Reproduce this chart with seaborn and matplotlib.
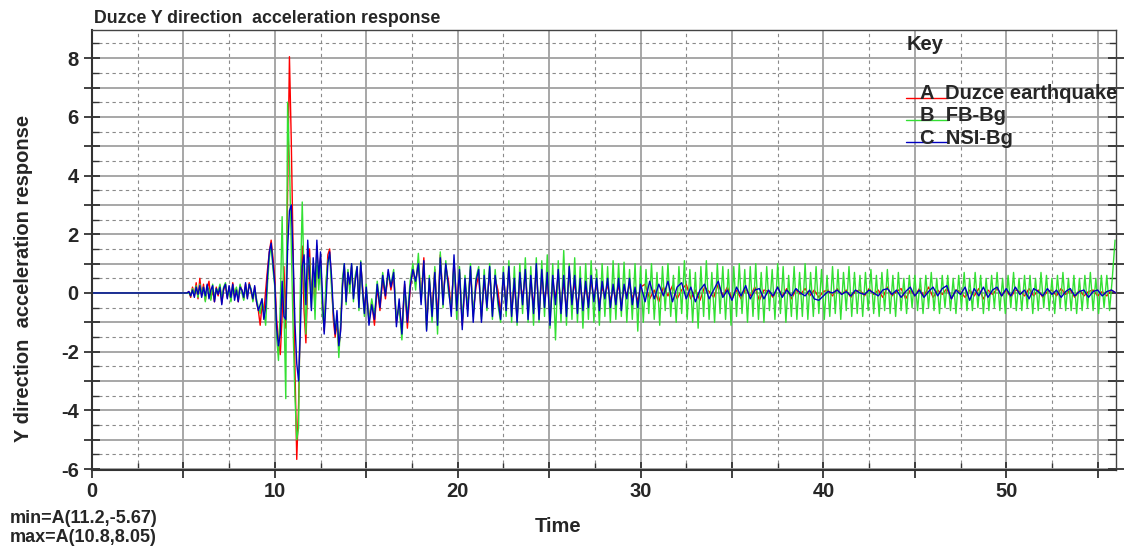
import numpy as np
import pandas as pd
import matplotlib
matplotlib.use("Agg")
import matplotlib.pyplot as plt
import seaborn as sns
from matplotlib.ticker import MultipleLocator, FuncFormatter
from matplotlib.lines import Line2D
from matplotlib.legend_handler import HandlerLine2D

# ---------------------------------------------------------------
# Data
# ---------------------------------------------------------------
# quiet lead-in before the record starts
lead_time = [0.0, 5.1]
lead_vals = [0.0, 0.0]

# strong motion part: 5.2 s .. 15.0 s every 0.1 s
strong_t0, strong_dt = 5.2, 0.1
duzce_strong = [0.0, 0.05, -0.15, 0.2, -0.1, 0.35, -0.2, 0.5,
                -0.1, 0.3, -0.25, 0.15, 0.4, -0.2, 0.1, -0.3, 0.2, -0.1,
                0.25, -0.35, 0.1, 0.3, -0.15, 0.2, -0.25, 0.35, -0.1, 0.15,
                -0.3, 0.25, 0.1, -0.2, 0.3, -0.15, 0.35, 0.05, -0.25, 0.2,
                -0.3, -0.6, -1.1, -0.4, -0.7, 0.1, 0.8, 1.4, 1.8, 1.2,
                0.5, -0.9, -1.6, -2.1, -0.8, 0.9, -1.2, 3.5, 8.05, 5.2,
                1.5, -2.5, -5.67, -3.8, -0.5, 1.6, -0.6, -1.7, 0.4, 1.5,
                -0.2, 0.8, -0.6, 1.6, 0.3, 1.2, -0.4, -1.3, 0.2, 1.3,
                1.5, 0.4, -0.9, -1.5, -1.0, -1.9, -1.2, 0.3, 0.9, -0.2,
                0.6, 0.2, 0.9, -0.1, 0.5, 0.8, -0.4, 1.0, 0.2, -0.6, 0.1]
fb_strong = [0.0, 0.0, -0.1, 0.15, -0.05, 0.25, -0.15, 0.3,
             0.0, 0.2, -0.3, 0.25, 0.1, -0.25, 0.3, -0.2, 0.15, 0.05,
             0.3, -0.2, 0.2, 0.35, -0.1, 0.1, -0.3, 0.25, 0.0, 0.2,
             -0.2, 0.3, 0.0, -0.25, 0.2, -0.1, 0.3, 0.15, -0.3, 0.1,
             -0.2, -0.5, -0.7, -0.2, -0.6, -1.1, 0.3, 1.2, 1.6, 0.8,
             0.2, -1.5, -2.3, -0.4, 2.6, -0.5, -3.6, 6.5, 4.5, 1.6,
             -1.2, -3.5, -5.0, -4.6, 0.3, 3.1, 0.5, -1.4, 0.9, 1.2,
             -0.5, 0.9, -0.9, 1.4, 0.1, 1.0, -0.7, -1.2, 0.4, 1.1,
             1.3, 0.2, -0.7, -1.3, -0.8, -2.2, -1.0, 0.5, 1.0, -0.4,
             0.8, 0.0, 1.0, -0.3, 0.6, 0.9, -0.6, 1.1, 0.0, -0.8, 0.3]
nsi_strong = [0.0, 0.05, -0.1, 0.1, -0.15, 0.2, -0.05, 0.25,
              -0.15, 0.2, -0.1, 0.3, -0.2, 0.1, 0.25, -0.3, 0.15, -0.05,
              0.2, -0.4, 0.15, 0.3, -0.2, 0.25, -0.15, 0.3, -0.25, 0.1,
              -0.3, 0.2, 0.1, -0.15, 0.35, -0.2, 0.3, 0.1, -0.2, 0.25,
              -0.3, -0.6, -0.4, -0.2, -0.9, -0.5, 0.6, 1.4, 1.7, 1.0,
              0.3, -1.2, -1.8, -1.4, 0.4, -0.8, -0.9, 1.5, 2.8, 3.0,
              1.2, -1.0, -2.4, -3.0, -1.2, 0.9, 1.3, -0.4, 1.8, 0.6,
              -0.6, 1.2, 0.2, 1.8, 0.5, 1.4, 0.0, -1.4, -0.3, 1.0,
              1.4, 0.6, -0.6, -1.4, -0.6, -1.8, -1.3, 0.2, 1.0, -0.3,
              0.7, 0.3, 1.0, -0.2, 0.4, 0.9, -0.5, 1.05, 0.1, -0.7, 0.2]

# middle part: 15.15 s .. 30.0 s every 0.15 s
mid_t0, mid_dt = 15.15, 0.15
duzce_mid = [-0.9, -0.3, -1.1, 0.2, -0.6, 0.5, -0.2, 0.7, 0.1, 0.6,
             -1.0, -0.4, -1.3, 0.3, -1.2, 0.1, 0.9, 0.3, 1.1, -0.2,
             1.2, -1.1, 0.4, -0.6, 0.8, -0.9, 1.3, -0.2, 0.9, 0.4,
             -0.6, 1.1, -0.4, 0.7, -1.1, 0.3, -0.5, 0.8, -0.7, 0.2,
             0.6, -0.8, 0.4, -0.3, 0.7, -0.6, 0.5, 0.1, -0.7, 0.6,
             -0.4, 0.8, -0.6, 0.3, -0.8, 0.5, -0.2, 0.7, -0.6, 0.4,
             -0.5, 0.8, -0.7, 0.6, -0.3, 0.5, -0.8, 0.4, -0.2, 0.6,
             -0.5, 0.4, -0.6, 0.7, -0.3, 0.4, -0.5, 0.3, -0.4, 0.2,
             -0.3, 0.4, -0.2, 0.3, -0.4, 0.2, -0.1, 0.3, -0.3, 0.2,
             -0.2, 0.3, -0.4, 0.2, -0.1, 0.3, -0.2, 0.1, -0.3, 0.2]
fb_mid = [-1.0, -0.2, -0.8, 0.4, -0.4, 0.7, 0.0, 0.6, 0.3, 0.8,
          -0.9, -0.5, -1.6, 0.2, -0.8, 0.4, 1.0, 0.1, 1.35, -0.3,
          1.0, -1.25, 0.6, -1.0, 0.9, -1.4, 1.4, -0.5, 1.1, 0.0,
          -0.5, 1.0, -0.9, 0.9, -1.0, 0.6, -0.6, 1.0, -0.8, 0.5,
          0.9, -0.9, 0.8, -0.6, 1.0, -0.9, 0.8, -0.4, -1.0, 0.9,
          -0.8, 1.1, -1.0, 0.9, -1.1, 1.0, -0.7, 1.2, -1.0, 0.9,
          -1.1, 1.2, -1.0, 1.1, -0.8, 1.3, -1.2, 1.0, -1.6, 1.1,
          -1.0, 1.45, -1.1, 1.0, -0.9, 1.2, -1.0, 0.9, -1.2, 1.0,
          -0.9, 1.1, -1.0, 0.8, -1.1, 1.0, -0.8, 0.9, -1.0, 1.1,
          -0.9, 1.0, -0.8, 1.05, -1.0, 0.8, -0.9, 1.0, -1.3, 0.9]
nsi_mid = [-1.1, -0.4, -0.9, 0.3, -0.5, 0.6, -0.1, 0.8, 0.2, 0.7,
           -1.15, -0.2, -1.4, 0.4, -1.0, 0.2, 0.8, 0.4, 1.0, -0.4,
           1.1, -1.3, 0.5, -0.8, 0.7, -1.1, 1.2, -0.4, 1.0, 0.2,
           -0.8, 1.3, -0.6, 0.8, -1.25, 0.5, -0.8, 0.9, -1.0, 0.4,
           0.8, -1.0, 0.6, -0.5, 0.9, -0.8, 0.6, -0.2, -0.9, 0.7,
           -0.6, 0.9, -0.8, 0.5, -1.0, 0.7, -0.4, 0.8, -0.9, 0.6,
           -0.7, 1.0, -0.9, 0.8, -0.5, 0.7, -1.1, 0.6, -0.4, 0.8,
           -0.7, 0.6, -0.8, 0.9, -0.4, 0.6, -0.7, 0.5, -0.6, 0.4,
           -0.5, 0.6, -0.3, 0.5, -0.6, 0.4, -0.2, 0.5, -0.5, 0.3,
           -0.4, 0.5, -0.6, 0.3, -0.2, 0.5, -0.4, 0.2, -0.5, 0.3]

# tail of FB-Bg: 30.15 s .. 55.95 s every 0.15 s
fb_tail_t0, fb_tail_dt = 30.15, 0.15
fb_tail = [-1.0, 0.8, -0.7, 1.0, -0.9, 0.7, -1.1, 0.9, -0.6, 1.0,
           -0.8, 0.6, -1.0, 0.9, -0.7, 1.1, -0.9, 0.8, -1.0, 0.7,
           -1.2, 0.9, -0.8, 1.1, -0.9, 0.7, -1.0, 1.0, -0.7, 0.9,
           -0.9, 0.8, -1.1, 0.9, -0.8, 1.0, -0.7, 0.8, -1.0, 0.9,
           -0.8, 1.0, -0.9, 0.7, -1.0, 0.9, -0.6, 0.8, -0.9, 1.0,
           -0.7, 0.9, -1.0, 0.6, -0.8, 0.9, -0.9, 0.7, -0.8, 1.0,
           -0.9, 0.7, -0.8, 0.9, -0.7, 0.8, -0.9, 0.6, -0.8, 0.9,
           -0.7, 0.8, -0.9, 0.7, -0.6, 0.9, -0.8, 0.7, -0.7, 0.6,
           -0.8, 0.7, -0.6, 0.8, -0.7, 0.6, -0.8, 0.7, -0.6, 0.8,
           -0.7, 0.6, -0.8, 0.7, -0.6, 0.5, -0.7, 0.6, -0.5, 0.6,
           -0.6, 0.5, -0.7, 0.6, -0.5, 0.7, -0.6, 0.5, -0.7, 0.6,
           -0.5, 0.6, -0.6, 0.5, -0.7, 0.6, -0.5, 0.7, -0.6, 0.5,
           -0.6, 0.7, -0.5, 0.6, -0.7, 0.5, -0.6, 0.6, -0.5, 0.7,
           -0.6, 0.5, -0.7, 0.6, -0.5, 0.7, -0.6, 0.5, -0.6, 0.6,
           -0.5, 0.6, -0.7, 0.5, -0.6, 0.7, -0.5, 0.6, -0.6, 0.5,
           -0.7, 0.6, -0.5, 0.7, -0.6, 0.5, -0.6, 0.6, -0.7, 0.5,
           -0.6, 0.6, -0.5, 0.7, -0.6, 0.5, -0.7, 0.6, -0.5, 0.6,
           -0.6, 0.5, 1.8]

# tails of Duzce record and NSI-Bg: 30.25 s .. 56.0 s every 0.25 s
tail_t0, tail_dt = 30.25, 0.25
duzce_tail = [0.3, -0.2, 0.1, -0.3, 0.2, -0.1, 0.25, -0.2, 0.1, 0.3,
              -0.2, 0.1, -0.25, 0.2, 0.05, -0.15, 0.3, -0.1, 0.2, -0.2,
              0.1, -0.2, 0.15, -0.1, 0.2, -0.25, 0.1, 0.05, -0.15, 0.2,
              -0.1, 0.15, -0.2, 0.1, -0.05, 0.15, -0.1, 0.1, -0.15, 0.05,
              0.1, -0.1, 0.15, -0.05, 0.1, -0.15, 0.05, 0.1, -0.1, 0.15,
              -0.05, 0.1, -0.15, 0.2, -0.1, 0.05, 0.15, -0.2, 0.1, -0.1,
              0.15, -0.1, 0.2, -0.15, 0.1, -0.05, 0.15, -0.2, 0.1, 0.05,
              -0.15, 0.1, -0.1, 0.15, -0.2, 0.1, -0.05, 0.15, -0.1, 0.1,
              -0.15, 0.1, 0.05, -0.1, 0.15, -0.1, 0.1, -0.15, 0.05, 0.1,
              -0.1, 0.15, -0.05, 0.1, -0.15, 0.1, -0.1, 0.05, 0.1, -0.1,
              0.05, -0.1, 0.1, 0.0]
nsi_tail = [-0.3, 0.4, -0.2, 0.3, -0.1, 0.4, -0.3, 0.2, 0.35, -0.2,
            0.2, -0.3, 0.1, 0.3, -0.2, 0.1, 0.4, -0.15, 0.1, -0.25,
            0.2, -0.1, 0.25, -0.2, 0.1, 0.15, -0.2, 0.1, -0.1, 0.2,
            -0.15, 0.1, -0.1, 0.15, 0.0, -0.1, 0.1, -0.2, -0.25, -0.1,
            0.05, 0.0, 0.1, -0.05, 0.05, -0.1, 0.1, 0.0, -0.05, 0.1,
            0.0, -0.1, 0.1, 0.15, -0.05, 0.1, -0.15, 0.05, 0.2, -0.1,
            0.1, -0.15, 0.05, 0.2, -0.1, 0.15, 0.25, -0.2, 0.1, -0.05,
            0.2, -0.25, 0.15, -0.1, 0.2, -0.15, 0.1, 0.2, -0.1, 0.15,
            -0.1, 0.2, -0.05, 0.1, -0.2, 0.15, 0.05, -0.1, 0.15, -0.05,
            0.1, -0.15, 0.05, 0.15, -0.1, 0.05, 0.1, -0.15, 0.05, 0.1,
            -0.1, 0.05, 0.1, 0.0]

series_keys = ["A", "B", "C"]
series_names = ["Duzce earthquake", "FB-Bg", "NSI-Bg"]
series_colors = ["#ff0000", "#33e033", "#0000c0"]


def build(key, parts):
    frames = []
    for t0, dt, vals in parts:
        t = t0 + dt * np.arange(len(vals))
        frames.append(pd.DataFrame({"time": t, "acc": vals}))
    df = pd.concat(frames, ignore_index=True)
    df["series"] = key
    return df


lead = (lead_time[0], lead_time[1] - lead_time[0], lead_vals)
df = pd.concat([
    build("A", [lead, (strong_t0, strong_dt, duzce_strong),
                (mid_t0, mid_dt, duzce_mid), (tail_t0, tail_dt, duzce_tail)]),
    build("B", [lead, (strong_t0, strong_dt, fb_strong),
                (mid_t0, mid_dt, fb_mid), (fb_tail_t0, fb_tail_dt, fb_tail)]),
    build("C", [lead, (strong_t0, strong_dt, nsi_strong),
                (mid_t0, mid_dt, nsi_mid), (tail_t0, tail_dt, nsi_tail)]),
], ignore_index=True)


# legend line drawn under the key letter, like the original "Key" box
class UnderlineHandler(HandlerLine2D):
    def create_artists(self, legend, orig_handle, xdescent, ydescent,
                       width, height, fontsize, trans):
        arts = super().create_artists(legend, orig_handle, xdescent, ydescent,
                                      width, height, fontsize, trans)
        for a in arts:
            if isinstance(a, Line2D):
                a.set_ydata(np.asarray(a.get_ydata()) - 0.42 * height)
        return arts


# ---------------------------------------------------------------
# Plot
# ---------------------------------------------------------------
sns.set_theme(style="white")
plt.rcParams["font.family"] = ["Liberation Sans", "DejaVu Sans"]
plt.rcParams["font.weight"] = "bold"

fig = plt.figure(figsize=(11.31, 5.5), dpi=100)
ax = fig.add_axes([0.0813, 0.1455, 0.9054, 0.80])

sns.lineplot(data=df, x="time", y="acc", hue="series", hue_order=series_keys,
             palette=dict(zip(series_keys, series_colors)), estimator=None,
             sort=False, linewidth=1.0, legend=False, ax=ax)

ax.set_xlim(0, 56)
ax.set_ylim(-6.03, 8.96)

ax.xaxis.set_major_locator(MultipleLocator(5))
ax.xaxis.set_minor_locator(MultipleLocator(2.5))
ax.yaxis.set_major_locator(MultipleLocator(1))
ax.yaxis.set_minor_locator(MultipleLocator(0.5))
ax.xaxis.set_major_formatter(FuncFormatter(lambda v, p: f"{v:.0f}" if round(v) % 10 == 0 else ""))
ax.yaxis.set_major_formatter(FuncFormatter(lambda v, p: f"{v:.0f}" if round(v) % 2 == 0 else ""))

ax.grid(which="major", color="#a0a0a0", linestyle="-", linewidth=1.3)
ax.grid(which="minor", color="#8a8a8a", linestyle=(0, (3, 3)), linewidth=0.8)
ax.set_axisbelow(True)

ax.tick_params(axis="both", which="major", direction="inout", length=11, width=1.3,
               color="#333333", labelsize=14.5, right=True, bottom=True, left=True)
ax.tick_params(axis="both", which="minor", direction="in", length=5, width=1.0,
               color="#333333", right=True, bottom=True, left=True)
ax.tick_params(axis="x", which="major", pad=3)
ax.tick_params(axis="y", which="major", pad=4)
for lab in ax.get_xticklabels() + ax.get_yticklabels():
    lab.set_fontweight("bold")

for side in ["left", "bottom"]:
    ax.spines[side].set_color("#333333")
    ax.spines[side].set_linewidth(1.5)
for side in ["top", "right"]:
    ax.spines[side].set_color("#444444")
    ax.spines[side].set_linewidth(1.0)

ax.set_xlabel("Time", fontsize=14.5, fontweight="bold")
ax.xaxis.set_label_coords(0.455, -0.107)
ax.set_ylabel("Y direction  acceleration response", fontsize=14.5, fontweight="bold")
ax.yaxis.set_label_coords(-0.058, 0.436)
fig.text(0.083, 0.967, "Duzce Y direction  acceleration response", fontsize=12.8,
         fontweight="bold", ha="left", va="center")

fig.text(0.009, 0.0564, "min=A(11.2,-5.67)", fontsize=13, fontweight="bold", ha="left", va="center")
fig.text(0.009, 0.0230, "max=A(10.8,8.05)", fontsize=13, fontweight="bold", ha="left", va="center")

ax.text(0.796, 0.966, "Key", transform=ax.transAxes, fontsize=14.5, fontweight="bold",
        ha="left", va="center")
handles = [Line2D([], [], color=c, linewidth=1.0) for c in series_colors]
labels = [f"{k}  {n}" for k, n in zip(series_keys, series_names)]
leg = ax.legend(handles, labels, loc="center left", bbox_to_anchor=(0.795, 0.8045),
                frameon=False, handlelength=2.1, handletextpad=-1.4, labelspacing=0.15,
                borderaxespad=0, borderpad=0, fontsize=14.5,
                handler_map={Line2D: UnderlineHandler()})
for txt in leg.get_texts():
    txt.set_fontweight("bold")

fig.savefig("out.png", dpi=100)
